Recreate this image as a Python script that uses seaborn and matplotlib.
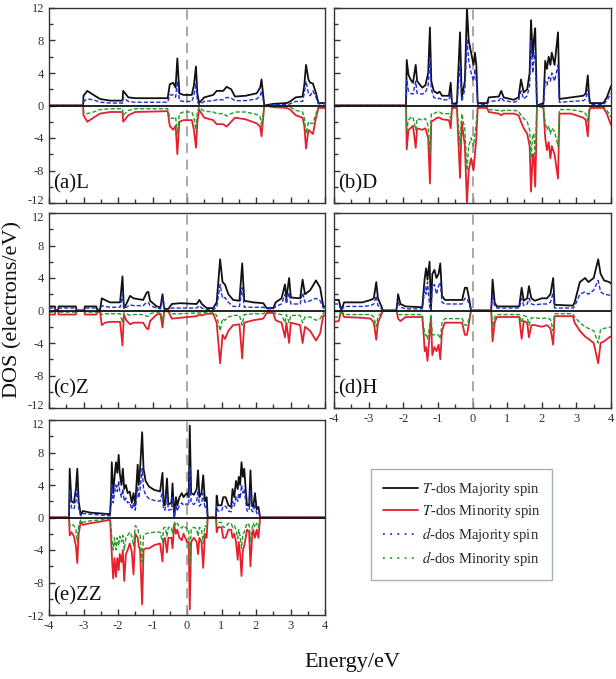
import numpy as np
import pandas as pd
import seaborn as sns
import matplotlib.pyplot as plt
from matplotlib.lines import Line2D
from matplotlib.ticker import MultipleLocator
from matplotlib.transforms import ScaledTranslation

sns.set_style("ticks")
plt.rcParams["font.family"] = ["Liberation Serif", "DejaVu Serif"]
plt.rcParams["mathtext.fontset"] = "stix"

# ---- data: energy grid + four DOS curves per panel ----
# (a) L
L_E = [-4.0, -3.01, -3.0, -2.89, -2.71, -2.52, -2.23, -1.87, -1.85, -1.70, -1.50, -0.56, -0.50, -0.40, -0.33, -0.28,
       -0.22, -0.10, 0.14, 0.20, 0.26, 0.30, 0.35, 0.50, 0.76, 0.86, 1.05, 1.15, 1.28, 1.39, 1.70, 2.02, 2.12, 2.16,
       2.24, 2.50, 2.89, 2.99, 3.15, 3.35, 3.40, 3.45, 3.52, 3.57, 3.65, 3.74, 3.81, 4.0]
L_T_UP = [0, 0, 1.2, 1.8, 1.3, 0.8, 0.6, 0.6, 1.8, 1.0, 0.9, 0.9, 2.6, 2.8, 2.2, 5.8, 1.5, 1.3, 1.3, 2.5, 4.8, 1.5,
          0.3, 1.0, 1.3, 1.8, 1.8, 2.3, 2.0, 1.1, 1.2, 1.5, 2.2, 3.2, 0.0, 0.2, 0.3, 0.5, 1.0, 1.1, 2.5, 5.0, 3.2, 2.8,
          2.7, 1.5, 0.3, 0.3]
L_D_UP = [0, 0, 0.5, 0.8, 0.7, 0.4, 0.3, 0.3, 1.0, 0.5, 0.4, 0.4, 1.3, 1.3, 1.0, 3.0, 0.6, 0.5, 0.5, 1.2, 2.8, 0.5,
          0.1, 0.5, 0.6, 0.7, 0.7, 1.0, 0.9, 0.6, 0.6, 0.8, 1.2, 1.8, 0.0, 0.1, 0.1, 0.2, 0.5, 0.5, 1.5, 3.0, 1.5, 1.2,
          1.8, 1.0, 0.2, 0.2]
L_T_DN = [0, 0, -1.2, -2.0, -1.5, -1.0, -0.8, -0.8, -2.0, -1.2, -0.8, -0.7, -2.5, -3.0, -2.5, -6.0, -2.0, -1.8, -1.8,
          -3.0, -5.2, -2.0, -0.5, -1.5, -1.8, -2.3, -2.3, -2.6, -2.0, -1.5, -1.7, -2.2, -2.6, -3.8, 0.0, -0.2, -0.3,
          -0.5, -1.2, -1.5, -2.5, -5.3, -3.0, -3.2, -3.5, -1.5, -0.3, -0.3]
L_D_DN = [0, 0, -0.8, -1.0, -0.8, -0.5, -0.4, -0.4, -1.2, -0.6, -0.4, -0.4, -1.5, -1.6, -1.4, -3.5, -1.0, -0.8, -0.8,
          -1.5, -3.0, -0.8, -0.2, -0.7, -0.8, -1.0, -1.0, -1.3, -1.0, -0.8, -0.8, -1.1, -1.4, -2.5, 0.0, -0.1, -0.1,
          -0.2, -0.6, -0.8, -1.5, -3.5, -2.0, -2.2, -2.2, -1.0, -0.2, -0.2]

# (b) D
D_E = [-4.0, -1.92, -1.90, -1.85, -1.79, -1.72, -1.64, -1.60, -1.45, -1.36, -1.28, -1.23, -1.19, -1.12, -1.02, -0.95,
       -0.88, -0.68, -0.63, -0.59, -0.45, -0.36, -0.31, -0.22, -0.16, -0.11, -0.04, 0.03, 0.07, 0.11, 0.15, 0.42,
       0.47, 0.76, 0.83, 0.90, 1.19, 1.33, 1.40, 1.48, 1.58, 1.65, 1.69, 1.74, 1.77, 1.81, 1.84, 1.86, 2.05, 2.10,
       2.15, 2.20, 2.25, 2.29, 2.37, 2.47, 2.51, 2.85, 3.20, 3.27, 3.33, 3.37, 3.40, 3.78, 3.88, 4.0]
D_T_UP = [0, 0, 5.6, 3.8, 3.2, 2.8, 5.0, 3.0, 2.2, 2.5, 4.0, 9.6, 3.0, 1.8, 1.5, 1.7, 1.2, 1.2, 2.8, 0.2, 0.3, 9.0,
          1.0, 3.0, 12.0, 8.0, 6.5, 5.0, 6.5, 5.0, 0.3, 0.3, 1.0, 1.1, 1.8, 1.0, 0.7, 1.0, 3.2, 1.6, 2.0, 4.0, 10.5,
          6.0, 8.0, 9.5, 4.0, 0.0, 0.3, 5.5, 4.5, 6.0, 5.0, 6.5, 5.0, 9.0, 0.8, 1.0, 1.2, 1.5, 3.7, 1.0, 0.3, 0.3,
          1.0, 2.4]
D_D_UP = [0, 0, 3.2, 1.8, 1.5, 1.4, 3.0, 1.5, 1.4, 1.6, 2.5, 6.0, 2.0, 1.0, 0.8, 0.9, 0.7, 0.7, 1.5, 0.1, 0.1, 5.0,
          0.5, 2.0, 8.2, 5.5, 4.0, 3.0, 4.5, 3.0, 0.1, 0.1, 0.5, 0.6, 1.0, 0.6, 0.4, 0.6, 1.8, 0.8, 1.2, 2.5, 8.0,
          4.0, 5.5, 6.5, 2.5, 0.0, 0.1, 3.0, 2.5, 3.5, 3.0, 4.0, 3.0, 5.0, 0.4, 0.5, 0.6, 0.8, 2.0, 0.5, 0.1, 0.1,
          0.6, 1.5]
D_T_DN = [0, 0, -5.4, -3.0, -2.8, -2.5, -5.2, -2.8, -3.0, -2.8, -4.0, -9.6, -2.0, -1.8, -1.5, -1.5, -1.7, -1.8, -2.8,
          -0.3, -0.3, -8.9, -2.0, -5.0, -12.0, -8.0, -6.5, -8.0, -6.0, -4.0, -0.3, -0.3, -0.8, -1.0, -1.2, -1.0,
          -1.0, -1.2, -2.0, -2.8, -3.5, -5.0, -10.6, -6.0, -6.0, -10.0, -5.0, 0.0, -0.3, -4.0, -5.5, -4.5, -6.5,
          -5.0, -6.0, -9.0, -1.0, -1.0, -1.5, -1.8, -3.8, -0.8, -0.3, -0.3, -1.0, -2.4]
D_D_DN = [0, 0, -3.0, -1.8, -1.5, -1.4, -3.0, -1.6, -1.8, -1.6, -2.5, -6.0, -1.0, -1.0, -0.8, -0.8, -1.0, -1.0, -1.6,
          -0.1, -0.1, -5.0, -1.0, -3.0, -8.0, -5.0, -4.0, -5.0, -3.5, -2.0, -0.1, -0.1, -0.5, -0.6, -0.7, -0.6,
          -0.6, -0.7, -1.2, -1.6, -2.0, -3.0, -6.5, -3.5, -3.5, -6.0, -2.8, 0.0, -0.1, -2.2, -3.0, -2.5, -3.5,
          -2.8, -3.2, -5.0, -0.5, -0.5, -0.8, -1.0, -2.0, -0.4, -0.1, -0.1, -0.6, -1.4]

# (c) Z
Z_E = [-4.0, -3.83, -3.81, -3.74, -3.72, -3.22, -3.20, -2.98, -2.96, -2.63, -2.60, -2.52, -2.47, -2.38, -2.23, -1.94,
       -1.87, -1.83, -1.76, -1.65, -1.55, -1.27, -1.17, -1.12, -1.07, -0.88, -0.77, -0.71, -0.66, -0.54, -0.44,
       -0.20, 0.28, 0.36, 0.43, 0.57, 0.76, 0.86, 0.96, 1.03, 1.10, 1.20, 1.34, 1.52, 1.60, 1.66, 1.92, 2.21, 2.31,
       2.50, 2.57, 2.74, 2.84, 2.88, 2.96, 3.01, 3.28, 3.35, 3.42, 3.57, 3.74, 3.86, 3.95, 4.0]
Z_T_UP = [0.5, 0.5, 0.0, 0.0, 0.5, 0.5, 0.0, 0.0, 0.5, 0.5, 0.1, 0.1, 1.5, 1.3, 1.0, 1.0, 4.2, 0.3, 0.8, 1.8, 1.5,
          1.3, 2.2, 2.3, 1.2, 0.5, 0.4, 2.0, 0.2, 0.2, 0.8, 0.9, 0.8, 1.3, 0.8, 0.3, 0.3, 1.0, 6.3, 3.5, 3.2, 2.0,
          1.3, 1.2, 5.8, 1.2, 1.0, 0.9, 0.3, 0.3, 1.0, 1.5, 3.2, 1.5, 4.0, 1.6, 1.5, 3.8, 2.0, 2.5, 3.7, 2.8, 0.5, 0.5]
Z_D_UP = [0.3, 0.3, 0.0, 0.0, 0.3, 0.3, 0.0, 0.0, 0.3, 0.3, 0.05, 0.05, 0.6, 0.5, 0.4, 0.4, 2.0, 0.2, 0.4, 0.7, 0.6,
          0.6, 1.0, 1.0, 0.6, 0.3, 0.2, 1.5, 0.1, 0.1, 0.3, 0.3, 0.3, 0.6, 0.3, 0.1, 0.1, 0.4, 3.2, 1.5, 1.6, 1.0,
          0.5, 0.5, 2.8, 0.4, 0.4, 0.4, 0.2, 0.2, 0.5, 0.8, 2.0, 0.8, 2.2, 0.8, 0.8, 2.2, 1.0, 1.2, 1.5, 1.2, 0.3, 0.3]
Z_T_DN = [-0.5, -0.5, 0.0, 0.0, -0.5, -0.5, 0.0, 0.0, -0.5, -0.5, -0.2, -0.2, -1.8, -1.5, -1.4, -1.4, -4.3, -0.5,
          -1.2, -1.7, -1.5, -1.5, -2.2, -2.3, -1.3, -0.5, -0.4, -2.1, -0.1, -0.1, -1.0, -0.9, -0.7, -0.5, -0.6, -0.4,
          -0.4, -1.5, -6.5, -3.0, -3.5, -2.5, -1.8, -1.7, -5.9, -1.5, -1.2, -1.0, -0.3, -0.3, -1.2, -1.5, -3.3, -1.5,
          -4.0, -1.5, -1.8, -4.0, -2.0, -2.5, -3.7, -2.8, -0.6, -0.6]
Z_D_DN = [-0.2, -0.2, 0.0, 0.0, -0.2, -0.2, 0.0, 0.0, -0.2, -0.2, -0.1, -0.1, -0.5, -0.4, -0.4, -0.4, -1.5, -0.3,
          -0.4, -0.6, -0.5, -0.5, -0.7, -0.7, -0.4, -0.2, -0.2, -1.2, -0.05, -0.05, -0.4, -0.4, -0.3, -0.3, -0.3,
          -0.2, -0.2, -0.6, -2.5, -1.0, -1.2, -0.8, -0.6, -0.6, -1.8, -0.5, -0.4, -0.4, -0.1, -0.1, -0.4, -0.5, -1.5,
          -0.5, -1.5, -0.6, -0.6, -1.5, -0.8, -0.8, -1.2, -1.0, -0.3, -0.3]

# (d) H
H_E = [-4.0, -3.86, -3.79, -3.71, -3.18, -2.94, -2.85, -2.78, -2.73, -2.63, -2.59, -2.20, -2.17, -2.15, -2.08, -1.93,
       -1.45, -1.41, -1.38, -1.34, -1.30, -1.24, -1.20, -1.16, -1.10, -1.04, -0.98, -0.93, -0.88, -0.80, -0.30,
       -0.22, -0.16, -0.10, -0.04, 0.54, 0.58, 0.64, 0.70, 1.35, 1.42, 1.48, 1.58, 1.63, 1.70, 1.80, 2.00, 2.15,
       2.25, 2.33, 2.37, 2.90, 2.95, 3.10, 3.25, 3.35, 3.50, 3.63, 3.70, 3.80, 3.95, 4.0]
H_T_UP = [1.3, 1.3, 0.0, 1.0, 1.0, 1.3, 1.5, 3.5, 1.5, 0.5, 0.0, 0.0, 1.0, 2.0, 0.8, 0.5, 0.4, 2.5, 4.0, 5.2, 3.8,
          6.0, 0.0, 4.5, 5.0, 4.0, 4.5, 5.8, 1.8, 1.3, 1.3, 2.8, 2.8, 1.5, 0.0, 0.0, 3.8, 1.0, 0.5, 0.5, 2.8, 1.2,
          1.5, 3.0, 1.5, 1.2, 1.5, 1.5, 2.0, 4.0, 0.7, 0.6, 1.0, 3.5, 4.0, 3.5, 4.0, 6.3, 4.5, 3.7, 3.5, 3.3]
H_D_UP = [0.8, 0.8, 0.0, 0.5, 0.5, 0.6, 0.8, 1.8, 0.6, 0.2, 0.0, 0.0, 0.5, 1.0, 0.4, 0.2, 0.2, 1.5, 3.0, 2.0, 3.5,
          0.5, 0.0, 3.0, 3.2, 2.0, 3.0, 3.5, 1.0, 0.8, 0.8, 1.5, 1.5, 0.8, 0.0, 0.0, 2.0, 0.5, 0.3, 0.3, 1.5, 0.6,
          0.8, 1.5, 0.8, 0.7, 0.8, 0.8, 1.0, 2.2, 0.3, 0.3, 0.5, 2.0, 2.3, 2.0, 2.5, 3.7, 2.3, 2.0, 1.9, 1.8]
H_T_DN = [-1.4, -1.3, 0.0, -0.8, -0.9, -1.0, -1.5, -3.6, -1.5, -0.5, 0.0, 0.0, -0.5, -1.0, -1.3, -0.8, -0.8, -3.0,
          -5.0, -4.5, -6.2, -3.0, -1.0, -5.5, -4.5, -5.0, -4.2, -6.0, -2.5, -1.5, -1.5, -3.0, -3.0, -1.5, 0.0, 0.0,
          -3.8, -1.5, -0.8, -0.8, -3.5, -1.3, -1.5, -3.3, -1.8, -1.8, -2.0, -1.8, -2.2, -4.2, -0.7, -0.7, -1.5, -2.5,
          -3.2, -3.5, -4.0, -6.5, -4.0, -3.8, -3.3, -3.2]
H_D_DN = [-0.8, -0.8, 0.0, -0.5, -0.5, -0.5, -0.8, -2.0, -0.7, -0.3, 0.0, 0.0, -0.3, -0.5, -0.5, -0.5, -0.5, -2.0,
          -3.0, -3.0, -3.5, -2.0, -0.5, -3.0, -3.0, -3.0, -3.0, -3.5, -1.5, -1.0, -1.0, -1.8, -1.8, -1.0, 0.0, 0.0,
          -2.0, -0.8, -0.5, -0.5, -1.5, -0.6, -0.8, -1.8, -0.9, -0.9, -1.0, -0.9, -1.1, -2.5, -0.4, -0.4, -0.8, -1.5,
          -2.0, -2.2, -2.5, -4.0, -2.3, -2.2, -2.1, -2.0]

# (e) ZZ
ZZ_E = [-4.0, -3.42, -3.40, -3.35, -3.28, -3.22, -3.18, -3.14, -3.08, -3.02, -2.80, -2.50, -2.23, -2.20, -2.18,
        -2.14, -2.10, -2.06, -2.02, -1.98, -1.95, -1.90, -1.86, -1.82, -1.77, -1.72, -1.66, -1.60, -1.55, -1.50,
        -1.43, -1.40, -1.36, -1.30, -1.26, -1.20, -1.10, -0.95, -0.78, -0.71, -0.68, -0.64, -0.58, -0.54, -0.45,
        -0.42, -0.37, -0.32, -0.28, -0.22, -0.15, -0.10, -0.05, 0.00, 0.05, 0.08, 0.12, 0.20, 0.28, 0.32, 0.36,
        0.42, 0.47, 0.52, 0.57, 0.60, 0.84, 0.86, 0.90, 1.00, 1.05, 1.12, 1.20, 1.28, 1.32, 1.37, 1.42, 1.47, 1.50,
        1.54, 1.58, 1.62, 1.66, 1.70, 1.74, 1.80, 1.84, 1.88, 1.92, 1.97, 2.02, 2.07, 2.12, 4.0]
ZZ_T_UP = [0, 0, 6.0, 2.0, 1.8, 3.5, 6.0, 2.0, 0.3, 0.8, 0.6, 0.5, 0.4, 3.0, 6.8, 3.0, 5.0, 6.8, 5.5, 7.7, 5.5, 4.0,
           6.0, 3.5, 4.0, 3.0, 3.2, 1.8, 3.0, 1.5, 6.5, 4.0, 6.0, 10.5, 6.0, 4.5, 3.8, 3.4, 3.2, 5.5, 1.8, 1.5, 4.8,
           1.6, 1.8, 4.2, 0.0, 2.5, 1.5, 2.5, 3.0, 2.5, 2.8, 3.0, 2.5, 11.3, 3.0, 2.8, 3.5, 5.8, 2.5, 3.0, 5.2, 2.0,
           2.5, 0.0, 0.0, 2.7, 1.5, 1.5, 2.5, 2.5, 1.5, 1.3, 3.5, 2.5, 4.5, 3.5, 5.0, 4.0, 6.8, 5.0, 6.0, 3.5, 1.5,
           1.5, 5.8, 1.5, 1.3, 3.0, 1.0, 1.3, 0.0, 0.0]
ZZ_D_UP = [0, 0, 3.4, 1.2, 1.0, 2.0, 3.5, 1.2, 0.2, 0.5, 0.4, 0.3, 0.2, 1.8, 4.0, 1.8, 3.0, 4.0, 3.2, 4.5, 3.2, 2.5,
           3.5, 2.0, 2.4, 1.8, 1.9, 1.0, 1.8, 0.9, 3.8, 2.4, 3.5, 6.0, 3.5, 2.8, 2.3, 2.1, 2.0, 3.2, 1.0, 0.9, 2.8,
           0.9, 1.0, 2.5, 0.0, 1.5, 0.8, 1.5, 1.8, 1.5, 1.6, 1.7, 1.5, 6.3, 1.8, 1.6, 2.0, 3.3, 1.4, 1.7, 3.0, 1.1,
           1.4, 0.0, 0.0, 1.5, 0.8, 0.8, 1.4, 1.4, 0.8, 0.7, 2.0, 1.4, 2.6, 2.0, 3.0, 2.3, 4.0, 3.0, 3.5, 2.0, 0.8,
           0.8, 3.3, 0.8, 0.7, 1.7, 0.5, 0.7, 0.0, 0.0]
ZZ_T_DN = [0, 0, -2.2, -1.8, -2.3, -3.5, -5.6, -2.0, -0.5, -0.9, -0.7, -0.5, -0.3, -2.5, -4.5, -7.5, -5.0, -7.3,
           -5.0, -6.5, -4.5, -5.5, -4.0, -7.8, -4.5, -4.0, -3.2, -4.2, -7.0, -2.0, -2.5, -3.5, -4.0, -10.7, -4.0,
           -3.8, -3.8, -3.4, -3.2, -5.4, -2.8, -2.5, -4.3, -2.5, -2.5, -3.8, -1.0, -2.0, -1.5, -2.5, -2.8, -2.0,
           -2.5, -3.0, -3.0, -11.3, -3.0, -2.5, -3.0, -4.5, -2.5, -3.0, -6.2, -2.0, -2.5, 0, 0, -1.8, -1.2, -1.2,
           -2.5, -2.5, -1.5, -1.5, -2.5, -2.0, -3.0, -5.2, -3.0, -4.5, -7.2, -4.0, -3.5, -2.5, -1.5, -1.8, -6.0,
           -2.8, -1.5, -2.5, -1.5, -2.5, 0, 0]
ZZ_D_DN = [0, 0, -1.0, -0.8, -1.0, -1.5, -3.0, -1.0, -0.3, -0.6, -0.4, -0.3, -0.2, -1.2, -2.5, -4.0, -2.5, -4.0,
           -2.5, -3.5, -2.3, -3.0, -2.2, -4.0, -2.5, -2.2, -1.8, -2.3, -3.5, -1.0, -1.3, -2.0, -2.2, -5.5, -2.2,
           -2.0, -1.9, -1.8, -1.8, -3.0, -1.3, -1.2, -2.3, -1.2, -1.2, -2.0, -0.5, -1.0, -0.7, -1.2, -1.3, -1.0,
           -1.2, -1.4, -1.4, -6.0, -1.4, -1.2, -1.4, -2.3, -1.2, -1.4, -3.2, -1.0, -1.2, 0, 0, -0.9, -0.6, -0.6,
           -1.2, -1.2, -0.7, -0.7, -1.2, -1.0, -1.5, -2.6, -1.5, -2.3, -3.8, -2.0, -1.8, -1.2, -0.7, -0.9, -3.0,
           -1.4, -0.7, -1.2, -0.7, -1.2, 0, 0]

PANEL_LABELS = ["(a)L", "(b)D", "(c)Z", "(d)H", "(e)ZZ"]
SERIES_LABELS = ["$T$-dos Majority spin", "$T$-dos Minority spin",
                 "$d$-dos Majority spin", "$d$-dos Minority spin"]
Y_TICKS = [-12, -8, -4, 0, 4, 8, 12]
X_TICKS = [-4, -3, -2, -1, 0, 1, 2, 3, 4]

panels = [
    (L_E, L_T_UP, L_T_DN, L_D_UP, L_D_DN),
    (D_E, D_T_UP, D_T_DN, D_D_UP, D_D_DN),
    (Z_E, Z_T_UP, Z_T_DN, Z_D_UP, Z_D_DN),
    (H_E, H_T_UP, H_T_DN, H_D_UP, H_D_DN),
    (ZZ_E, ZZ_T_UP, ZZ_T_DN, ZZ_D_UP, ZZ_D_DN),
]

# line styles: T up, T down, d up, d down
styles = [
    dict(color="#111111", lw=1.3, ls="-"),
    dict(color="#e5202c", lw=1.3, ls="-"),
    dict(color="#1f2fd0", lw=1.0, ls=(0, (3, 1.5))),
    dict(color="#1f9e2a", lw=1.0, ls=(0, (3, 1.5))),
]
draw_order = [0, 2, 1, 3]

W, H = 616, 679
fig = plt.figure(figsize=(W / 100, H / 100), dpi=100)

cols = [(49, 325), (334, 611)]
rows = [(8, 203), (213, 408), (420, 615)]
slots = [(0, 0), (0, 1), (1, 0), (1, 1), (2, 0)]

for i, (data, (r, c)) in enumerate(zip(panels, slots)):
    x0, x1 = cols[c]
    t, b = rows[r]
    ax = fig.add_axes([x0 / W, 1 - b / H, (x1 - x0) / W, (b - t) / H])

    E = data[0]
    curves = data[1:]
    for k in draw_order:
        df = pd.DataFrame({"E": E, "DOS": curves[k]})
        st = styles[k]
        sns.lineplot(data=df, x="E", y="DOS", ax=ax, color=st["color"], linewidth=st["lw"],
                     linestyle=st["ls"], estimator=None, sort=False, legend=False)

    ax.axhline(0, color="#111111", lw=1.3, zorder=5)
    ax.axvline(0, color="#9a9a9a", lw=1.2, ls=(0, (6, 4)), zorder=1)

    ax.set_xlim(-4, 4)
    ax.set_ylim(-12, 12)
    ax.set_xticks(X_TICKS)
    ax.set_yticks(Y_TICKS)
    ax.xaxis.set_minor_locator(MultipleLocator(0.5))
    ax.yaxis.set_minor_locator(MultipleLocator(2))
    ax.tick_params(which="both", direction="in", top=False, right=False,
                   colors="#333333", labelsize=9, labelcolor="#333333")
    ax.tick_params(which="major", length=4, width=1)
    ax.tick_params(which="minor", length=3, width=1)
    ax.set_xlabel("")
    ax.set_ylabel("")
    for sp in ax.spines.values():
        sp.set_visible(True)
        sp.set_color("#333333")
        sp.set_linewidth(1.0)

    if c == 1:
        ax.set_yticklabels([])
    else:
        ax.set_yticklabels([str(v) for v in Y_TICKS])
        yt = ax.yaxis.get_major_ticks()
        # keep stacked end labels of neighbouring panels apart
        if r < 2:
            yt[0].label1.set_transform(yt[0].label1.get_transform()
                                       + ScaledTranslation(0, 2.5 / 72, fig.dpi_scale_trans))
        if r > 0:
            yt[-1].label1.set_transform(yt[-1].label1.get_transform()
                                        + ScaledTranslation(0, -2.5 / 72, fig.dpi_scale_trans))
    ax.set_xticklabels([str(v) for v in X_TICKS] if i in (3, 4) else [])

    ax.text(0.015, 0.05, PANEL_LABELS[i], transform=ax.transAxes, fontsize=15,
            ha="left", va="bottom", color="#111111")

fig.text(13 / W, 1 - 310 / H, "DOS (electrons/eV)", rotation=90, ha="center", va="center",
         fontsize=16, color="#111111")
fig.text(352 / W, 1 - 662 / H, "Energy/eV", ha="center", va="center", fontsize=16, color="#111111")

handles = [Line2D([], [], color=s["color"], lw=s["lw"] if k < 2 else 1.3,
                  ls=s["ls"] if k < 2 else (0, (1, 3)))
           for k, s in enumerate(styles)]
leg = fig.legend(handles, SERIES_LABELS, loc="upper left", bbox_to_anchor=(371 / W, 1 - 469 / H),
                 borderaxespad=0, fontsize=10.5, frameon=True, fancybox=False, handlelength=2.4,
                 labelspacing=0.35, handletextpad=0.3, borderpad=0.8)
leg.get_frame().set_edgecolor("#a8b0b8")
leg.get_frame().set_linewidth(1.0)
leg.get_frame().set_alpha(1)

fig.savefig("out.png", dpi=100)
